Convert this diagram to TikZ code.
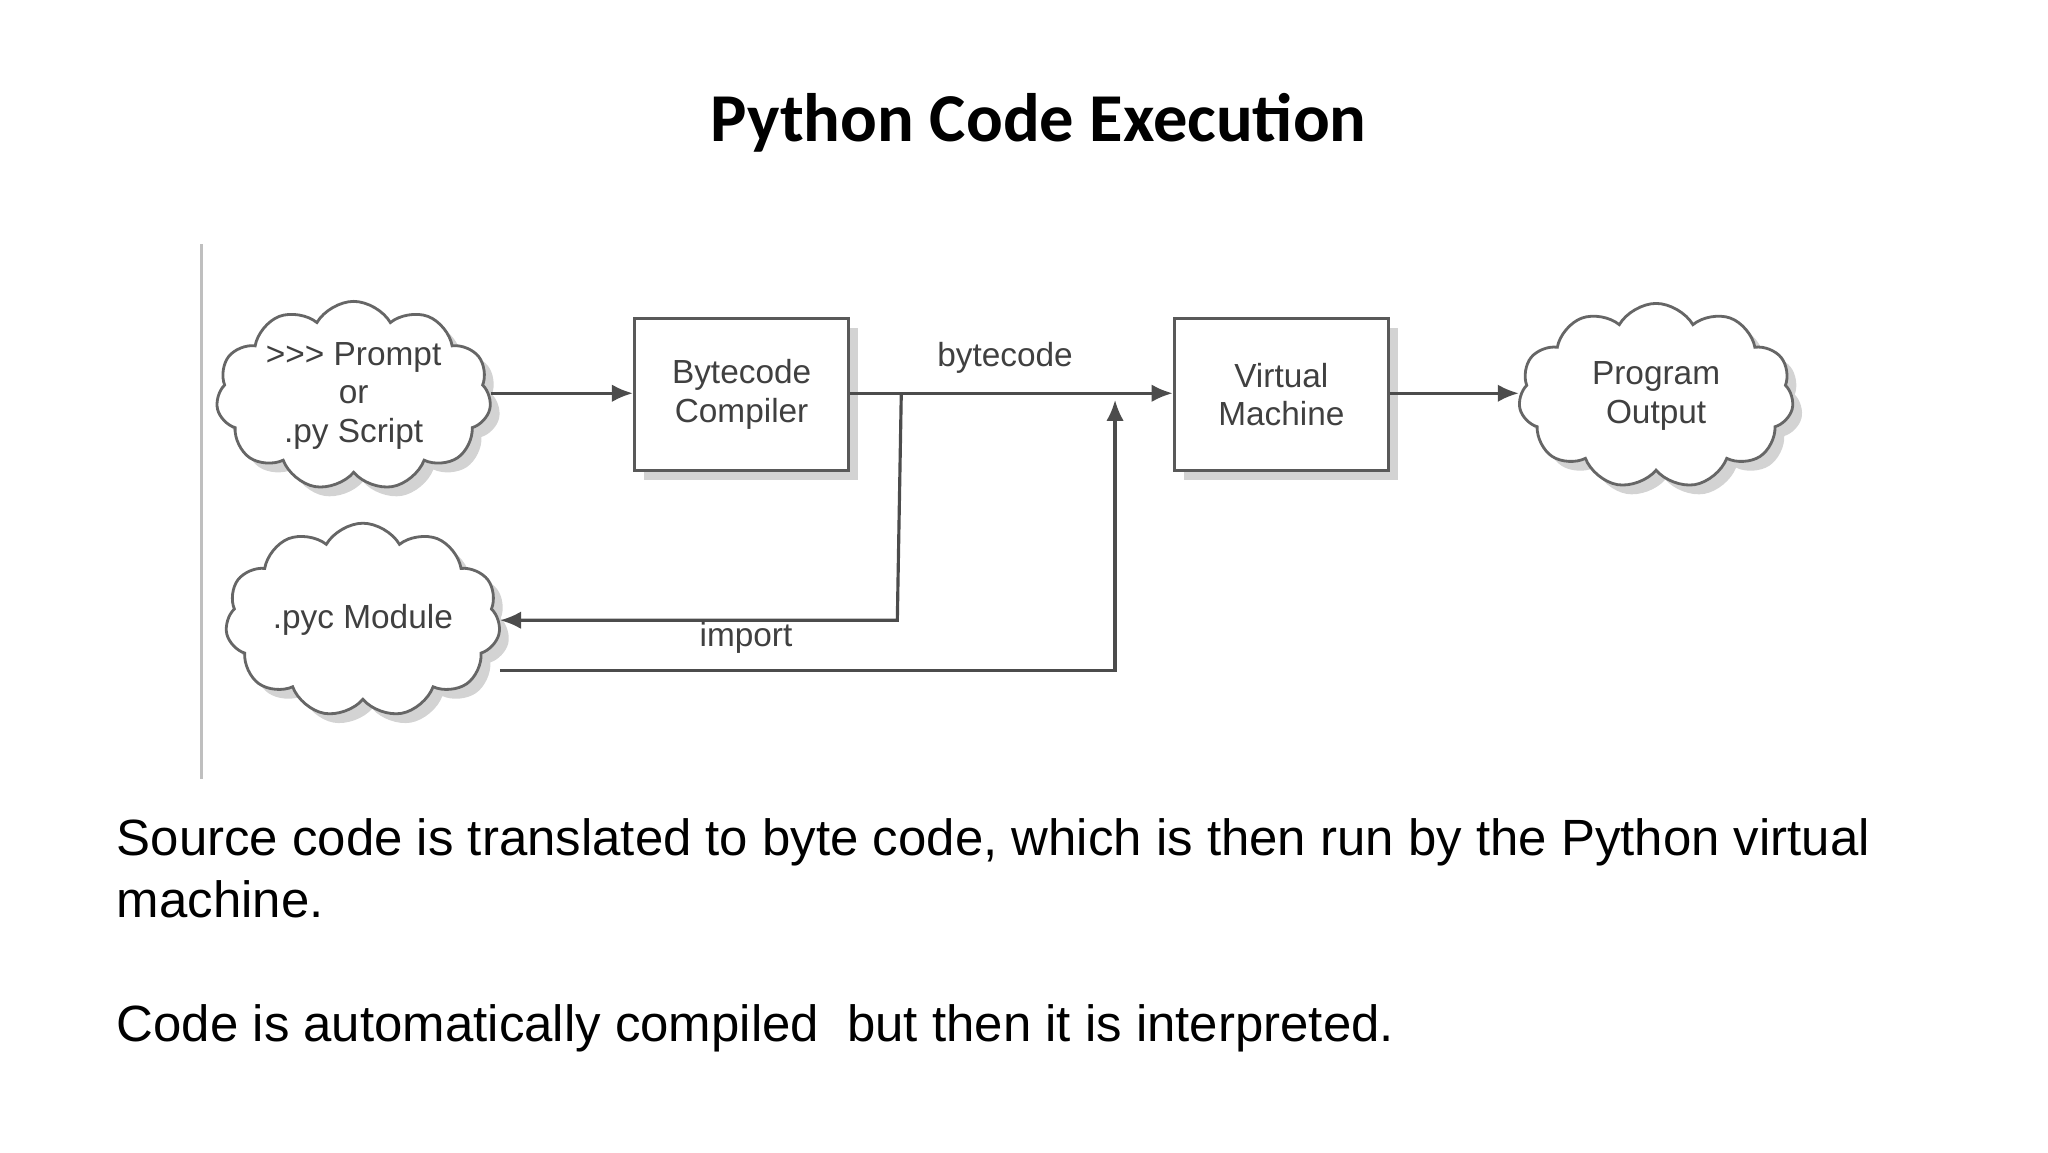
\documentclass[tikz,border=0pt]{standalone}
\usepackage{fontspec}
\setmainfont{Liberation Sans}
\newfontfamily\titlefont{Carlito}
\usetikzlibrary{shapes.symbols,shadows,arrows.meta}
\begin{document}
\begin{tikzpicture}[x=0.0132cm,y=-0.0132cm,
  lbl/.style={font=\fontsize{9.5}{11}\selectfont, text=black!75, align=center},
  cl/.style={cloud, cloud puffs=11, cloud puff arc=120, aspect=1.6, draw=black!60, fill=white, line width=0.8pt, minimum width=2.75cm, minimum height=1.85cm, inner sep=0pt, drop shadow={opacity=0.35}, lbl},
  bx/.style={draw=black!65, fill=white, line width=0.9pt, minimum width=2.14cm, minimum height=1.52cm, drop shadow={opacity=0.35}, lbl},
  ar/.style={draw=black!70, line width=0.9pt, -{Latex[length=6pt,width=5pt]}},
  body/.style={anchor=base west, inner sep=0pt, font=\fontsize{14.5}{17}\selectfont}]
\useasboundingbox (0,0) rectangle (1552,873);
\node[font=\titlefont\bfseries\fontsize{19.5}{23}\selectfont] (title) at (787,93) {Python Code Execution};
\draw[black!25, line width=0.8pt] (153,185) -- (153,590);
\node[cl] (src) at (268,300) {{>}{>}{>} Prompt\\or\\.py Script};
\node[bx] (comp) at (562,299) {Bytecode\\Compiler};
\node[bx] (vm) at (971,299) {Virtual\\Machine};
\node[cl] (out) at (1255,300) {Program\\Output};
\node[cl, minimum height=1.8cm] (pyc) at (275,470) {.pyc Module};
\draw[ar] (src.east |- 0,298) -- (comp.west |- 0,298);
\draw[ar] (comp.east |- 0,298) -- node[lbl, above=2pt, pos=0.48] (bc) {bytecode} (vm.west |- 0,298);
\draw[ar] (vm.east |- 0,298) -- (out.west |- 0,298);
\coordinate (d1) at (683,298);
\coordinate (d2) at (680,470);
\draw[ar] (d1) -- (d2) -- (pyc.east |- d2);
\coordinate (i1) at (845,508);
\coordinate (i2) at (845,303);
\draw[ar] (pyc.east |- i1) -- node[lbl, above=1pt, pos=0.4] (imp) {import} (i1) -- (i2);
\node[body] (t1) at (88,648) {Source code is translated to byte code, which is then run by the Python virtual};
\node[body] (t2) at (88,695) {machine.};
\node[body] (t3) at (88,789) {Code is automatically compiled\ \ but then it is interpreted.};
\end{tikzpicture}
\end{document}
